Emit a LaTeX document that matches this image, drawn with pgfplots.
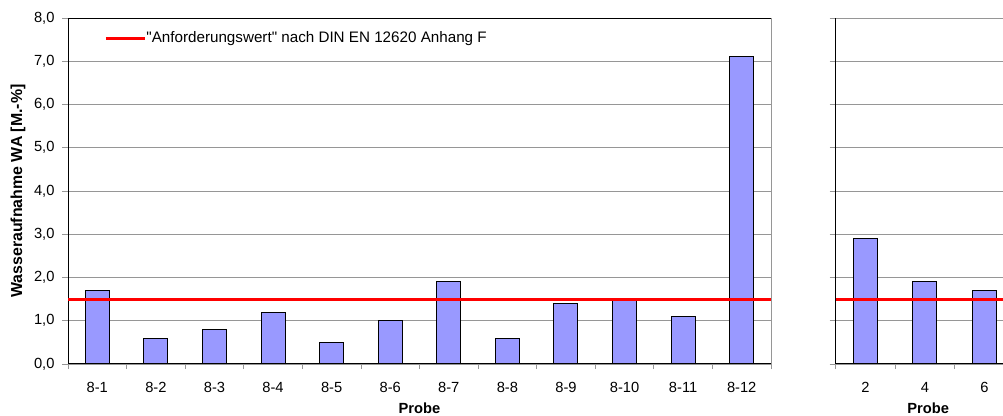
\documentclass[border=0pt]{standalone}
\usepackage{fontspec}
\setmainfont{Liberation Sans}[Ligatures=TeXOff]
\usepackage{pgfplots}
\pgfplotsset{compat=1.18}
\definecolor{barfill}{RGB}{153,153,255}
\definecolor{gridgray}{RGB}{150,150,150}
\definecolor{xlred}{RGB}{255,0,0}
\pgfplotsset{
  common/.style={
    scale only axis, anchor=south west,
    height=346bp,
    ymin=0, ymax=8, ytick={0,1,...,8},
    ymajorgrids, grid style={gridgray, line width=0.8bp},
    tick align=outside, tick pos=left,
    major tick length=6bp, minor tick length=5bp,
    major x tick style={draw=none},
    minor x tick style={gridgray, line width=0.8bp},
    major y tick style={gridgray, line width=0.8bp},
    axis line style={black, line width=1bp},
    /pgf/number format/assume math mode=true,
    tick label style={font=\fontsize{14.7bp}{17bp}\selectfont},
    xticklabel style={anchor=base, yshift=-23bp},
    yticklabel style={xshift=-4bp, /pgf/number format/fixed, /pgf/number format/fixed zerofill, /pgf/number format/precision=1, /pgf/number format/use comma},
    xlabel={Probe},
    xlabel style={font=\fontsize{14.7bp}{17bp}\selectfont\bfseries, at={(axis description cs:0.5,0)}, anchor=base, yshift=-49.5bp},
  },
  bars/.style={ybar, bar width=24bp, fill=barfill, draw=black, line width=1bp, forget plot},
  reqline/.style={xlred, line width=3bp, no markers},
}
\begin{document}
\begin{tikzpicture}
\useasboundingbox (0,0) rectangle (1003bp,416bp);
\clip (0,0) rectangle (1003bp,416bp);
\begin{axis}[common, name=left,
  at={(68bp,52bp)}, width=703bp,
  xmin=0.5, xmax=12.5,
  xtick={1,...,12},
  xticklabels={8-1,8-2,8-3,8-4,8-5,8-6,8-7,8-8,8-9,8-10,8-11,8-12},
  minor xtick={0.5,1.5,...,12.5},
  ylabel={Wasseraufnahme WA [M.-\%]},
  ylabel style={font=\fontsize{15.9bp}{18bp}\selectfont\bfseries, at={(axis description cs:-0.0711,0.5)}, anchor=center},
  legend style={draw=none, fill=none, at={(0.0515,0.942)}, anchor=west, inner sep=0pt, nodes={inner sep=0pt}, font=\fontsize{15.2bp}{18bp}\selectfont},
]
\addplot[bars] coordinates {(1,1.7) (2,0.6) (3,0.8) (4,1.2) (5,0.5) (6,1.0) (7,1.9) (8,0.6) (9,1.4) (10,1.5) (11,1.1) (12,7.1)};
\addplot[reqline, legend image code/.code={\draw[xlred, line width=3bp] (0bp,0bp) -- (39bp,0bp);}] coordinates {(0.5,1.5) (12.5,1.5)};
\addlegendentry{"Anforderungswert" nach DIN EN 12620 Anhang F}
\end{axis}
\draw[gridgray, line width=1bp] (left.south east) -- (left.north east);
\begin{axis}[common,
  at={(835.7bp,52bp)}, width=185bp,
  xmin=0.5, xmax=3.609,
  xtick={1,2,3}, xticklabels={2,4,6},
  minor xtick={0.5,1.5,2.5,3.5},
  yticklabels={},
  axis x line*=bottom, axis y line*=left,
]
\addplot[bars] coordinates {(1,2.9) (2,1.9) (3,1.7)};
\addplot[reqline] coordinates {(0.5,1.5) (3.609,1.5)};
\end{axis}
\end{tikzpicture}
\end{document}
